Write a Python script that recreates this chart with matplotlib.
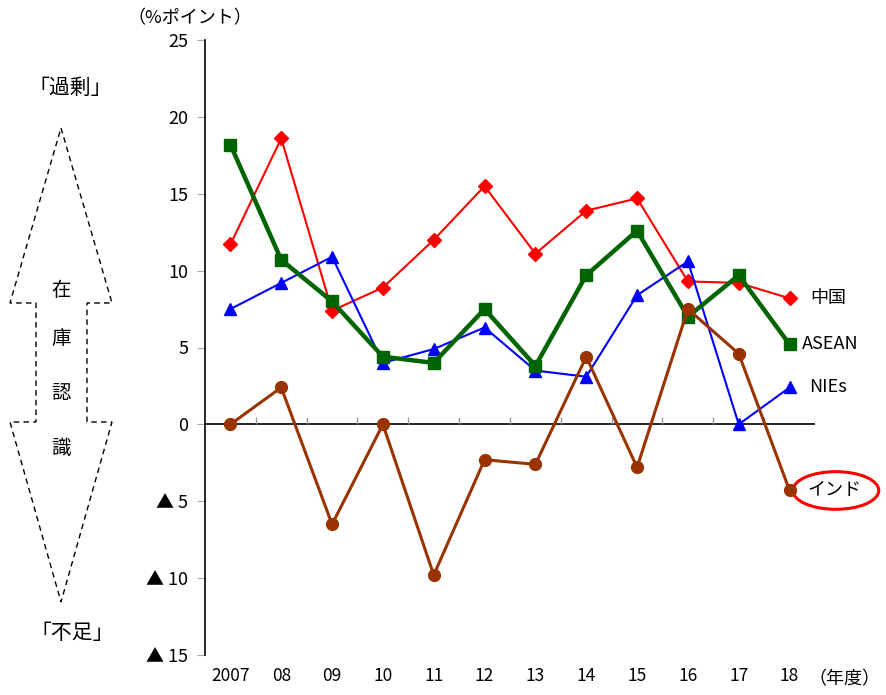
import matplotlib
matplotlib.use("Agg")
import matplotlib.pyplot as plt
from matplotlib.patches import Ellipse, Polygon

plt.rcParams['font.family'] = ['Noto Sans CJK JP', 'DejaVu Sans']

years = ["2007", "08", "09", "10", "11", "12", "13", "14", "15", "16", "17", "18"]
china = [11.7, 18.6, 7.4, 8.9, 12.0, 15.5, 11.1, 13.9, 14.7, 9.3, 9.2, 8.2]
asean = [18.2, 10.7, 8.0, 4.4, 4.0, 7.5, 3.8, 9.7, 12.6, 7.0, 9.7, 5.2]
nies = [7.5, 9.2, 10.9, 4.0, 4.9, 6.3, 3.5, 3.1, 8.4, 10.6, 0.0, 2.4]
india = [0.0, 2.4, -6.5, 0.0, -9.8, -2.3, -2.6, 4.4, -2.8, 7.5, 4.6, -4.3]

y_ticks = [25, 20, 15, 10, 5, 0, -5, -10, -15]
y_labels = ["25", "20", "15", "10", "5", "0", "▲ 5", "▲ 10", "▲ 15"]

fig = plt.figure(figsize=(8.87, 6.95), dpi=100)
ax = fig.add_axes([0.2311, 0.0576, 0.6877, 0.8848])

x = [i + 0.5 for i in range(len(years))]

ax.plot(x, china, color="#ff0000", lw=1.5, marker="D", ms=7.5, zorder=3)
ax.plot(x, nies, color="#0000ff", lw=1.5, marker="^", ms=8.5, zorder=4)
ax.plot(x, asean, color="#006400", lw=3.2, marker="s", ms=8, zorder=5)
ax.plot(x, india, color="#993300", lw=2.2, marker="o", ms=8.5, zorder=6)

ax.set_xlim(0, 12)
ax.set_ylim(-15, 25)

# zero line with small ticks between the years
ax.axhline(0, color="black", lw=1.2, zorder=2)
ax.vlines(range(1, 13), 0, 0.45, color="#999999", lw=1, zorder=2)

for s in ["top", "right", "bottom"]:
    ax.spines[s].set_visible(False)
ax.spines["left"].set_linewidth(1.2)

ax.set_yticks(y_ticks)
ax.set_yticklabels(y_labels, fontsize=13)
ax.tick_params(axis="y", length=6, color="#aaaaaa", pad=6)
ax.set_xticks(x)
ax.set_xticklabels(years, fontsize=12.5)
ax.tick_params(axis="x", length=0, pad=9)

# series names at the line ends
ax.text(11.9, china[-1], "中国", fontsize=13, va="center", clip_on=False)
ax.text(11.75, asean[-1], "ASEAN", fontsize=13, va="center", clip_on=False)
ax.text(11.88, nies[-1], "NIEs", fontsize=13, va="center", clip_on=False)
ax.text(11.86, india[-1], "インド", fontsize=13, va="center", clip_on=False)
ax.add_patch(Ellipse((12.41, india[-1]), 1.69, 2.45, fill=False,
                     edgecolor="#ff0000", lw=2.2, clip_on=False))

fig.text(0.2142, 0.974, "（%ポイント）", fontsize=13, ha="center", va="center")
fig.text(0.952, 0.022, "（年度）", fontsize=13, ha="center", va="center")

# dashed double arrow on the left
W, H = 887, 695
pts = [(61, 128), (112, 303), (87, 303), (87, 422), (112, 422), (61, 602),
       (10, 422), (36, 422), (36, 303), (10, 303)]
arrow = Polygon([(px / W, 1 - py / H) for px, py in pts], closed=True,
                fill=False, edgecolor="black", lw=1, ls=(0, (4, 3)),
                transform=fig.transFigure)
fig.patches.append(arrow)

fig.text(70 / W, 1 - 88 / H, "「過剰」", fontsize=15, ha="center", va="center")
fig.text(72 / W, 1 - 633 / H, "「不足」", fontsize=15, ha="center", va="center")
for ch, py in zip("在庫認識", [290, 339, 393, 448]):
    fig.text(61 / W, 1 - py / H, ch, fontsize=14, ha="center", va="center")

fig.savefig("out.png", dpi=100)
